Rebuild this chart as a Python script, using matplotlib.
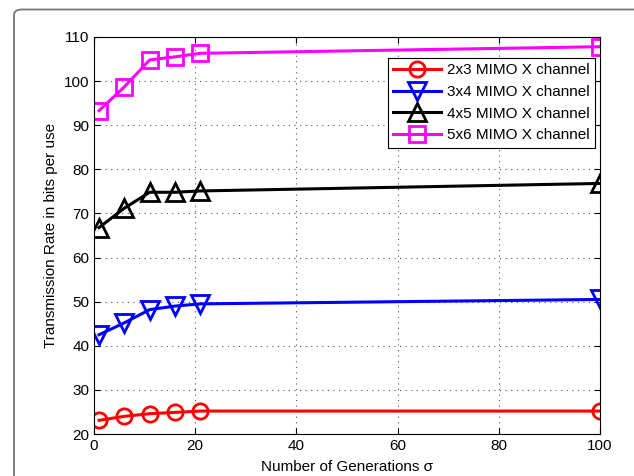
import matplotlib
matplotlib.use('Agg')
import matplotlib.pyplot as plt
from matplotlib.patches import FancyBboxPatch

plt.rcParams['font.family'] = ['Liberation Sans', 'DejaVu Sans']

# generations sigma
x = [1, 6, 11, 16, 21, 100]

# transmission rate per scheme
rate_2x3 = [23.1, 24.0, 24.6, 24.9, 25.2, 25.2]
rate_3x4 = [42.5, 45.2, 48.2, 49.0, 49.5, 50.5]
rate_4x5 = [66.8, 71.2, 74.8, 74.8, 75.1, 76.8]
rate_5x6 = [93.3, 98.7, 104.8, 105.5, 106.3, 107.8]

labels = ['2x3 MIMO X channel', '3x4 MIMO X channel',
          '4x5 MIMO X channel', '5x6 MIMO X channel']

fig = plt.figure(figsize=(6.34, 4.76), dpi=100)
W, H = 634, 476
ax = fig.add_axes([94 / W, 1 - 434 / H, (600 - 94) / W, (434 - 37) / H])

# rounded frame around the figure (cut off at right/bottom)
frame = FancyBboxPatch((14 / W, -0.1), 1.2, 1 - 9.5 / H + 0.1,
                       boxstyle='round,pad=0,rounding_size=0.012',
                       transform=fig.transFigure, fill=False,
                       edgecolor='#777777', linewidth=1.3, zorder=-5)
fig.patches.append(frame)

kw = dict(linewidth=2.2, markeredgewidth=2, markerfacecolor='none')
ax.plot(x, rate_2x3, '-o', color='red', label=labels[0], markersize=11, **kw)
ax.plot(x, rate_3x4, '-v', color='blue', label=labels[1], markersize=13, **kw)
ax.plot(x, rate_4x5, '-^', color='black', label=labels[2], markersize=13, **kw)
ax.plot(x, rate_5x6, '-s', color='magenta', label=labels[3], markersize=11, **kw)

ax.set_xlim(0, 100)
ax.set_ylim(20, 110)
ax.set_xticks([0, 20, 40, 60, 80, 100])
ax.set_yticks(range(20, 111, 10))
ax.grid(True, linestyle=(0, (1, 4)), color='#555555', linewidth=0.8)
ax.tick_params(direction='in', top=True, right=True, labelsize=11, length=4)
for s in ax.spines.values():
    s.set_linewidth(0.8)

ax.set_xlabel('Number of Generations σ', fontsize=11, labelpad=5)
ax.set_ylabel('Transmission Rate in bits per use', fontsize=11)

leg = ax.legend(loc='upper right', bbox_to_anchor=(0.99, 0.947), fontsize=11,
                fancybox=False, edgecolor='black', framealpha=1,
                handlelength=3.1, borderpad=0.35, labelspacing=0.5,
                handletextpad=0.4, borderaxespad=0)
leg.get_frame().set_linewidth(0.8)

fig.savefig('out.png', dpi=100)
